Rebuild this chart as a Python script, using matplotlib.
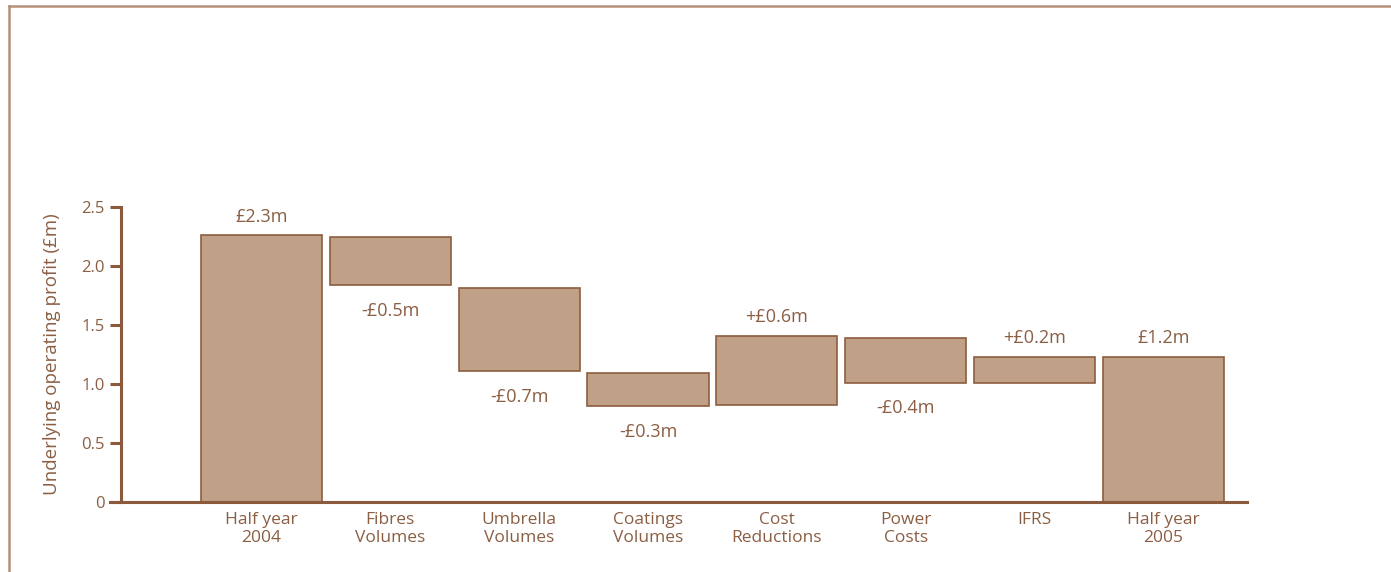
import matplotlib.pyplot as plt
from matplotlib.lines import Line2D

# Waterfall data (values in £m)
categories = ["Half year\n2004", "Fibres\nVolumes", "Umbrella\nVolumes", "Coatings\nVolumes",
              "Cost\nReductions", "Power\nCosts", "IFRS", "Half year\n2005"]
bar_bottoms = [0.0, 1.84, 1.11, 0.81, 0.82, 1.01, 1.01, 0.0]
bar_tops = [2.26, 2.25, 1.81, 1.09, 1.41, 1.39, 1.23, 1.23]
value_labels = ["£2.3m", "-£0.5m", "-£0.7m", "-£0.3m", "+£0.6m", "-£0.4m", "+£0.2m", "£1.2m"]
label_above = [True, False, False, False, True, False, True, True]
y_ticks = [0, 0.5, 1.0, 1.5, 2.0, 2.5]
y_tick_labels = ["0", "0.5", "1.0", "1.5", "2.0", "2.5"]

bar_color = "#c0a087"
edge_color = "#8e5d3f"
text_color = "#8b5e43"
axis_color = "#8b5a3c"
frame_color = "#b5917a"

plt.rcParams['font.family'] = ['Open Sans', 'DejaVu Sans']

fig = plt.figure(figsize=(13.91, 5.72), dpi=100)
ax = fig.add_axes([0.0791, 0.1224, 0.8174, 0.5157])

x = list(range(len(categories)))
heights = [t - b for t, b in zip(bar_tops, bar_bottoms)]
ax.bar(x, heights, bottom=bar_bottoms, width=0.94, color=bar_color,
       edgecolor=edge_color, linewidth=1.2)

for i, lab in enumerate(value_labels):
    if label_above[i]:
        ax.annotate(lab, (x[i], bar_tops[i]), xytext=(0, 7), textcoords="offset points",
                    ha="center", va="bottom", fontsize=13, color=text_color)
    else:
        ax.annotate(lab, (x[i], bar_bottoms[i]), xytext=(0, -12), textcoords="offset points",
                    ha="center", va="top", fontsize=13, color=text_color)

ax.set_xlim(-1.176, 7.65)
ax.set_ylim(0, 2.5)
ax.set_yticks(y_ticks)
ax.set_yticklabels(y_tick_labels)
ax.set_xticks(x)
ax.set_xticklabels(categories, linespacing=1.22)

for s in ["top", "right"]:
    ax.spines[s].set_visible(False)
ax.spines["left"].set_position(("data", -1.09))
ax.spines["left"].set_bounds(0, 2.5)
for s in ["left", "bottom"]:
    ax.spines[s].set_color(axis_color)
    ax.spines[s].set_linewidth(2.2)

ax.tick_params(axis="y", length=8, width=2.2, color=axis_color, labelcolor=text_color,
               labelsize=12, pad=4)
ax.tick_params(axis="x", length=0, labelcolor=text_color, labelsize=12.5, pad=7)

ax.set_ylabel("Underlying operating profit (£m)", color=text_color, fontsize=13.5)
ax.yaxis.set_label_coords(-0.043, 0.5)

# outer frame (top and left rules)
fig.add_artist(Line2D([9 / 1391, 1.0], [1 - 6 / 572, 1 - 6 / 572], color=frame_color, linewidth=1.8))
fig.add_artist(Line2D([9 / 1391, 9 / 1391], [0.0, 1 - 6 / 572], color=frame_color, linewidth=1.8))

fig.savefig("out.png", dpi=100)
